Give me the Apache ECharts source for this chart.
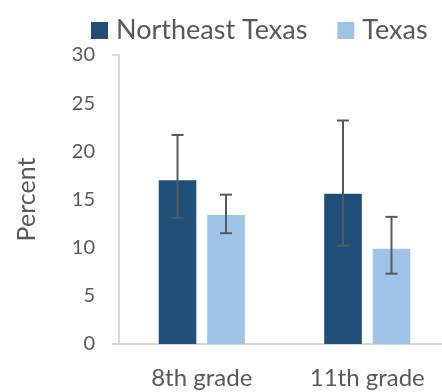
<!DOCTYPE html>
<html><head><meta charset="utf-8">
<script src="https://cdn.jsdelivr.net/npm/echarts@6/dist/echarts.min.js"></script>
<style>html,body{margin:0;padding:0;background:#fff}#c{width:442px;height:392px}</style>
</head><body><div id="c"></div>
<script>
var categories = ['8th grade', '11th grade'];
var seriesNames = ['Northeast Texas', 'Texas'];
var northeastValues = [17.0, 15.6];
var northeastLow = [13.1, 10.2];
var northeastHigh = [21.7, 23.2];
var texasValues = [13.4, 9.9];
var texasLow = [11.5, 7.3];
var texasHigh = [15.5, 13.2];
var yTicks = [0, 5, 10, 15, 20, 25, 30];

var FONT = 'Lato';
var colors = ['#1F4E79', '#9DC3E6'];
var CAT_GAP = 0.48, BAR_GAP = 0.29;

function errorSeries(idx, low, high) {
  return {
    type: 'custom',
    z: 10,
    silent: true,
    data: categories.map(function (c, i) { return [i, low[i], high[i]]; }),
    renderItem: function (params, api) {
      var ci = api.value(0);
      var pLow = api.coord([ci, api.value(1)]);
      var pHigh = api.coord([ci, api.value(2)]);
      var band = api.size([1, 0])[0];
      var w = band * (1 - CAT_GAP) / (2 + BAR_GAP);
      var x = pLow[0] - w * (2 + BAR_GAP) / 2 + idx * w * (1 + BAR_GAP) + w / 2;
      var cap = 6;
      var st = { stroke: '#595959', lineWidth: 2 };
      return { type: 'group', children: [
        { type: 'line', shape: { x1: x, y1: pLow[1], x2: x, y2: pHigh[1] }, style: st },
        { type: 'line', shape: { x1: x - cap, y1: pLow[1], x2: x + cap, y2: pLow[1] }, style: st },
        { type: 'line', shape: { x1: x - cap, y1: pHigh[1], x2: x + cap, y2: pHigh[1] }, style: st }
      ]};
    }
  };
}

var chart = echarts.init(document.getElementById('c'));
chart.setOption({
  animation: false,
  color: colors,
  textStyle: { fontFamily: FONT },
  legend: {
    data: seriesNames,
    top: 12, left: 86,
    itemWidth: 17, itemHeight: 17, itemGap: 30,
    icon: 'rect',
    textStyle: { fontSize: 27, color: '#595959', fontFamily: FONT, padding: [0, 0, 0, 3] }
  },
  grid: { left: 119, width: 331, top: 55, bottom: 48, containLabel: false, outerBoundsMode: 'none' },
  xAxis: {
    type: 'category',
    data: categories,
    axisLine: { lineStyle: { color: '#D9D9D9', width: 2 } },
    axisTick: { show: false },
    axisLabel: { fontSize: 24, color: '#595959', margin: 22, fontFamily: FONT }
  },
  yAxis: [{
    type: 'value',
    min: yTicks[0], max: yTicks[yTicks.length - 1], interval: 5,
    name: 'Percent', nameLocation: 'middle', nameGap: 80, nameRotate: 90,
    nameTextStyle: { fontSize: 25, color: '#595959', fontFamily: FONT },
    axisLine: { show: true, lineStyle: { color: '#D9D9D9', width: 2 } },
    axisTick: { show: false },
    splitLine: { show: false },
    axisLabel: { fontSize: 20, color: '#595959', margin: 24, fontFamily: FONT }
  }, {
    type: 'value', position: 'left', offset: 0,
    min: yTicks[0], max: yTicks[yTicks.length - 1], interval: yTicks[yTicks.length - 1],
    axisLine: { show: false },
    axisTick: { show: true, length: 7, lineStyle: { color: '#D9D9D9', width: 2 } },
    axisLabel: { show: false },
    splitLine: { show: false }
  }],
  series: [
    { name: seriesNames[0], type: 'bar', data: northeastValues, barGap: (BAR_GAP * 100) + '%', barCategoryGap: (CAT_GAP * 100) + '%' },
    { name: seriesNames[1], type: 'bar', data: texasValues, barGap: (BAR_GAP * 100) + '%', barCategoryGap: (CAT_GAP * 100) + '%' },
    errorSeries(0, northeastLow, northeastHigh),
    errorSeries(1, texasLow, texasHigh)
  ]
});
</script></body></html>
